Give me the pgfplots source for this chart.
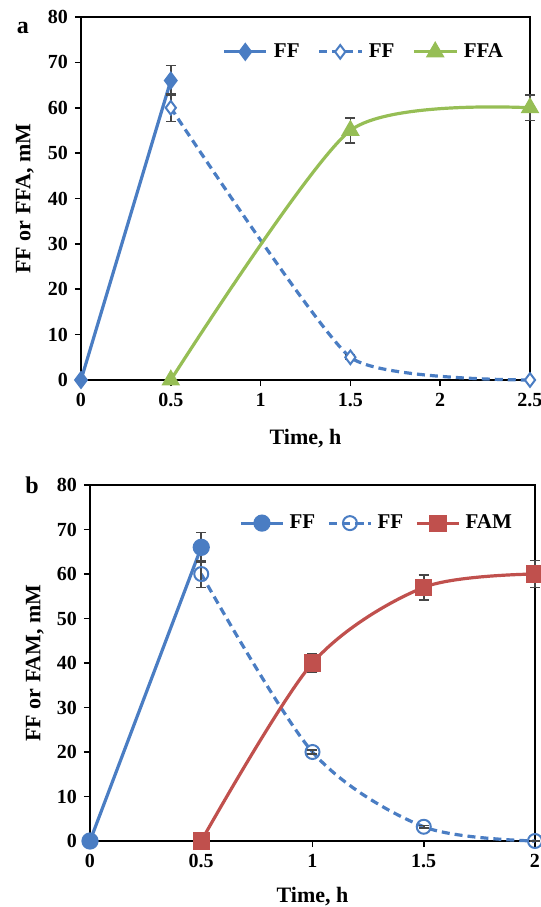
\documentclass[border=0pt]{standalone}
\usepackage{fontspec}
\setmainfont{Liberation Serif}
\usepackage{pgfplots}
\pgfplotsset{compat=1.18}
\definecolor{ffblue}{RGB}{74,125,195}
\definecolor{ffagreen}{RGB}{150,190,85}
\definecolor{famred}{RGB}{192,80,77}
\definecolor{errgray}{RGB}{70,70,70}
\pgfplotsset{
  panel/.style={
    scale only axis, xmin=0, ymin=0, ymax=80, ytick={0,10,...,80},
    tick align=outside, tick pos=left, clip=false,
    axis line style={line width=1pt},
    major tick length=3pt,
    tick style={black, line width=0.8pt},
    tick label style={font=\fontsize{10}{12}\selectfont\bfseries},
    label style={font=\fontsize{11}{13}\selectfont\bfseries},
    /pgf/number format/assume math mode=true,
    legend columns=3,
    legend style={draw=none, fill=none, font=\fontsize{10.5}{12}\selectfont\bfseries},
    legend image code/.code={\draw[mark repeat=2,mark phase=2] plot coordinates {(0cm,0cm) (0.37cm,0cm) (0.74cm,0cm)};},
    error bars/y dir=both, error bars/y explicit,
    error bars/error bar style={draw=errgray, line width=0.8pt, solid},
    error bars/error mark options={rotate=90, mark size=2.5pt, draw=errgray, line width=0.8pt, solid},
  },
  fill/.style={line width=1.6pt, solid},
  dash/.style={line width=1.6pt, dash pattern=on 4pt off 2.5pt},
}
\begin{document}
\begin{tikzpicture}
\useasboundingbox (0,0) rectangle (270.5pt,-453.5pt);
\node[font=\fontsize{12}{14}\selectfont\bfseries] at (11.5pt,-14pt) {a};
\node[font=\fontsize{12}{14}\selectfont\bfseries] at (16pt,-242.5pt) {b};

% panel a
\begin{axis}[panel, at={(40.5pt,-190pt)}, anchor=south west,
  width=224.5pt, height=181.5pt, xmax=2.5, xtick={0,0.5,...,2.5},
  xticklabels={0,0.5,1,1.5,2,2.5},
  xlabel={Time, h}, ylabel={FF or FFA, mM},
  xlabel style={at={(axis description cs:0.5,-0.16)}, anchor=center},
  ylabel style={at={(axis description cs:-0.125,0.5)}, anchor=center, rotate=0},
  legend style={at={(0.966,0.904)}, anchor=east,
    /tikz/every even column/.append style={column sep=7pt},
    /tikz/every odd column/.append style={column sep=1pt}}]
\addplot[ffblue, fill, mark=diamond*, mark size=3.4pt, mark options={solid, fill=ffblue}]
  coordinates {(0,0) +- (0,0) (0.5,66) +- (0,3.3)};
\addlegendentry{FF}
\addplot[ffblue, dash, smooth, tension=0.3, mark=diamond*, mark size=3.4pt, mark options={solid, fill=white, line width=1pt}]
  coordinates {(0.5,60) +- (0,3) (1.5,5) +- (0,0.5) (2.5,0) +- (0,0)};
\addlegendentry{FF}
\addplot[ffagreen, fill, smooth, tension=0.4, mark=triangle*, mark size=3.8pt, mark options={solid, fill=ffagreen}]
  coordinates {(0.5,0) +- (0,0) (1.5,55) +- (0,2.7) (2.5,60) +- (0,2.8)};
\addlegendentry{FFA}
\end{axis}

% panel b
\begin{axis}[panel, at={(45pt,-420.5pt)}, anchor=south west,
  width=222.5pt, height=178pt, xmax=2, xtick={0,0.5,...,2},
  xticklabels={0,0.5,1,1.5,2},
  xlabel={Time, h}, ylabel={FF or FAM, mM},
  xlabel style={at={(axis description cs:0.5,-0.157)}, anchor=center},
  ylabel style={at={(axis description cs:-0.124,0.5)}, anchor=center, rotate=0},
  legend style={at={(0.974,0.893)}, anchor=east,
    /tikz/every even column/.append style={column sep=4pt},
    /tikz/every odd column/.append style={column sep=0.5pt}}]
\addplot[ffblue, fill, mark=*, mark size=3.5pt, mark options={solid, fill=ffblue}]
  coordinates {(0,0) +- (0,0) (0.5,66) +- (0,3.3)};
\addlegendentry{FF}
\addplot[ffblue, dash, smooth, mark=o, mark size=3.5pt, mark options={solid, fill=white, line width=1pt}]
  coordinates {(0.5,60) +- (0,3) (1,20) +- (0,0.5) (1.5,3.2) +- (0,0.3) (2,0) +- (0,0)};
\addlegendentry{FF}
\addplot[famred, fill, smooth, mark=square*, mark size=3.5pt, mark options={solid, fill=famred}]
  coordinates {(0.5,0) +- (0,0) (1,40) +- (0,2) (1.5,57) +- (0,2.8) (2,60) +- (0,3)};
\addlegendentry{FAM}
\end{axis}
\end{tikzpicture}
\end{document}
